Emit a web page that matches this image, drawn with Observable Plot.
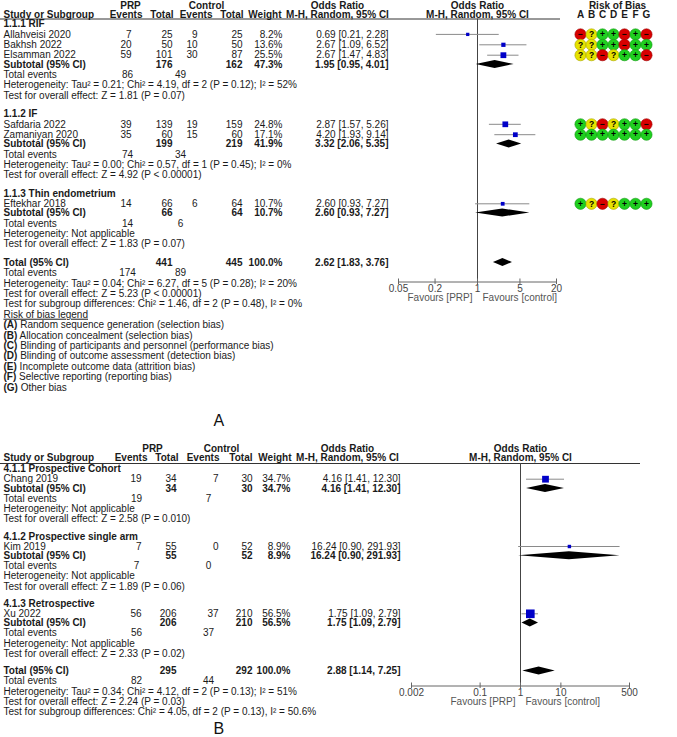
<!DOCTYPE html>
<html><head><meta charset="utf-8">
<script src="https://cdn.jsdelivr.net/npm/d3@7"></script>
<script src="https://cdn.jsdelivr.net/npm/@observablehq/plot@0.6"></script>
<style>
body{margin:0;background:#fff}
#fig{position:relative;width:677px;height:737px;overflow:hidden;background:#fff}
#fig > div{position:absolute;left:0;width:677px}
#fig svg{position:absolute;left:0;top:0;overflow:visible}
</style></head><body><div id="fig"><div id="pa" style="top:0;height:430px"></div><div id="pb" style="top:430px;height:307px"></div></div>
<script>
// ================= DATA: Panel A =================
const groupsA = ["1.1.1 RIF", "1.1.2 IF", "1.1.3 Thin endometrium"];
const studyA = ["Allahveisi 2020", "Bakhsh 2022", "Elsamman 2022", "Safdaria 2022", "Zamaniyan 2020", "Eftekhar 2018"];
const studyGroupA = ["1.1.1 RIF", "1.1.1 RIF", "1.1.1 RIF", "1.1.2 IF", "1.1.2 IF", "1.1.3 Thin endometrium"];
const prpEventsA = [7, 20, 59, 39, 35, 14];
const prpTotalA = [25, 50, 101, 139, 60, 66];
const ctlEventsA = [9, 10, 30, 19, 15, 6];
const ctlTotalA = [25, 50, 87, 159, 60, 64];
const weightA = [8.2, 13.6, 25.5, 24.8, 17.1, 10.7];
const orA = [0.69, 2.67, 2.67, 2.87, 4.20, 2.60];
const loA = [0.21, 1.09, 1.47, 1.57, 1.93, 0.93];
const hiA = [2.28, 6.52, 4.83, 5.26, 9.14, 7.27];
const robA = ["-?++-+-", "??++-++", "??-?++-", "+?-?++-", "+++++++", "+?-?+++"];
// subgroups A
const subPrpTotalA = [176, 199, 66];
const subCtlTotalA = [162, 219, 64];
const subWeightA = [47.3, 41.9, 10.7];
const subOrA = [1.95, 3.32, 2.60];
const subLoA = [0.95, 2.06, 0.93];
const subHiA = [4.01, 5.35, 7.27];
const subPrpEventsA = [86, 74, 14];
const subCtlEventsA = [49, 34, 6];
const subHetA = ["Tau² = 0.21; Chi² = 4.19, df = 2 (P = 0.12); I² = 52%", "Tau² = 0.00; Chi² = 0.57, df = 1 (P = 0.45); I² = 0%", "Not applicable"];
const subTestA = ["Z = 1.81 (P = 0.07)", "Z = 4.92 (P < 0.00001)", "Z = 1.83 (P = 0.07)"];
// overall A
const totalA = {prpTotal: 441, ctlTotal: 445, weight: 100.0, or: 2.62, lo: 1.83, hi: 3.76, prpEvents: 174, ctlEvents: 89,
  het: "Tau² = 0.04; Chi² = 6.27, df = 5 (P = 0.28); I² = 20%", test: "Z = 5.23 (P < 0.00001)",
  sub: "Chi² = 1.46, df = 2 (P = 0.48), I² = 0%"};
const ticksA = [0.05, 0.2, 1, 5, 20];
const tickLabelsA = ["0.05", "0.2", "1", "5", "20"];
const robLetters = ["A", "B", "C", "D", "E", "F", "G"];
const robLegend = ["(A) Random sequence generation (selection bias)", "(B) Allocation concealment (selection bias)",
  "(C) Blinding of participants and personnel (performance bias)", "(D) Blinding of outcome assessment (detection bias)",
  "(E) Incomplete outcome data (attrition bias)", "(F) Selective reporting (reporting bias)", "(G) Other bias"];

// ================= DATA: Panel B =================
const groupsB = ["4.1.1 Prospective Cohort", "4.1.2 Prospective single arm", "4.1.3 Retrospective"];
const studyB = ["Chang 2019", "Kim 2019", "Xu 2022"];
const studyGroupB = ["4.1.1 Prospective Cohort", "4.1.2 Prospective single arm", "4.1.3 Retrospective"];
const prpEventsB = [19, 7, 56];
const prpTotalB = [34, 55, 206];
const ctlEventsB = [7, 0, 37];
const ctlTotalB = [30, 52, 210];
const weightB = [34.7, 8.9, 56.5];
const orB = [4.16, 16.24, 1.75];
const loB = [1.41, 0.90, 1.09];
const hiB = [12.30, 291.93, 2.79];
const subPrpTotalB = [34, 55, 206];
const subCtlTotalB = [30, 52, 210];
const subWeightB = [34.7, 8.9, 56.5];
const subOrB = [4.16, 16.24, 1.75];
const subLoB = [1.41, 0.90, 1.09];
const subHiB = [12.30, 291.93, 2.79];
const subPrpEventsB = [19, 7, 56];
const subCtlEventsB = [7, 0, 37];
const subHetB = ["Not applicable", "Not applicable", "Not applicable"];
const subTestB = ["Z = 2.58 (P = 0.010)", "Z = 1.89 (P = 0.06)", "Z = 2.33 (P = 0.02)"];
const totalB = {prpTotal: 295, ctlTotal: 292, weight: 100.0, or: 2.88, lo: 1.14, hi: 7.25, prpEvents: 82, ctlEvents: 44,
  het: "Tau² = 0.34; Chi² = 4.12, df = 2 (P = 0.13); I² = 51%", test: "Z = 2.24 (P = 0.03)",
  sub: "Chi² = 4.05, df = 2 (P = 0.13), I² = 50.6%"};
const ticksB = [0.002, 0.1, 1, 10, 500];
const tickLabelsB = ["0.002", "0.1", "1", "10", "500"];

// ================= LAYOUT / STYLE =================
const FONT = "'Liberation Sans', Arial, sans-serif";
const FS = 10;
const TXT = "#1a1a1a";
const COL_A = {label:[3,"start"], ev1:[131,"end"], tot1:[172,"end"], ev2:[197,"end"], tot2:[242,"end"], wt:[282,"end"], or:[388,"end"],
  te1:[127,"middle"], te2:[180,"middle"], hExp:[130,"middle"], hCtl:[206,"middle"], hEv1:[142,"end"], hTot1:[173,"end"],
  hEv2:[212,"end"], hTot2:[243,"end"], hWt:[281,"end"], hOr:[337,"middle"]};
const COL_B = {label:[3,"start"], ev1:[141,"end"], tot1:[176,"end"], ev2:[218,"end"], tot2:[252,"end"], wt:[290,"end"], or:[400,"end"],
  te1:[136,"middle"], te2:[208,"middle"], hExp:[152,"middle"], hCtl:[221,"middle"], hEv1:[147,"end"], hTot1:[178,"end"],
  hEv2:[219,"end"], hTot2:[252,"end"], hWt:[291,"end"], hOr:[347,"middle"]};
const LAY_A = {height:430, right:117, hdr1:5, hdr2:13.8, line:18.5, first:23.5, step:10.4, sub:9.2, gap:18.3, axis:281.5, dh:4,
  panelY:420, xRange:[398, 556], domain:[0.05, 20]};
const LAY_B = {height:307, right:37, hdr1:18, hdr2:27.5, line:33, first:38.5, step:10.2, sub:9.2, gap:17.3, axis:255.5, dh:4,
  panelY:298, xRange:[411, 629], domain:[0.002, 500]};

const f2 = v => v.toFixed(2);
const orTxt = (e, l, h) => `${f2(e)} [${f2(l)}, ${f2(h)}]`;

function build(D, L) {
  const items = [], studies = [], diamonds = [];
  const add = (t, y, col, bold, fill) => items.push({t: String(t), y, col, bold: !!bold, fill});
  add("PRP", L.hdr1, "hExp", 1); add("Control", L.hdr1, "hCtl", 1); add("Odds Ratio", L.hdr1, "hOr", 1);
  add("Study or Subgroup", L.hdr2, "label", 1); add("Events", L.hdr2, "hEv1", 1); add("Total", L.hdr2, "hTot1", 1);
  add("Events", L.hdr2, "hEv2", 1); add("Total", L.hdr2, "hTot2", 1); add("Weight", L.hdr2, "hWt", 1);
  add("M-H, Random, 95% CI", L.hdr2, "hOr", 1);
  let y = L.first;
  D.groups.forEach((g, gi) => {
    add(g, y, "label", 1); y += L.step;
    D.study.forEach((s, i) => {
      if (D.studyGroup[i] !== g) return;
      add(s, y, "label"); add(D.prpEvents[i], y, "ev1"); add(D.prpTotal[i], y, "tot1");
      add(D.ctlEvents[i], y, "ev2"); add(D.ctlTotal[i], y, "tot2"); add(D.weight[i].toFixed(1) + "%", y, "wt");
      add(orTxt(D.or[i], D.lo[i], D.hi[i]), y, "or");
      studies.push({i, y, or: D.or[i], lo: D.lo[i], hi: D.hi[i], w: D.weight[i]});
      y += L.step;
    });
    y -= L.step - L.sub;
    add("Subtotal (95% CI)", y, "label", 1); add(D.subPrpTotal[gi], y, "tot1", 1); add(D.subCtlTotal[gi], y, "tot2", 1);
    add(D.subWeight[gi].toFixed(1) + "%", y, "wt", 1); add(orTxt(D.subOr[gi], D.subLo[gi], D.subHi[gi]), y, "or", 1);
    diamonds.push({k: gi, y, est: D.subOr[gi], lo: D.subLo[gi], hi: D.subHi[gi]});
    y += L.step;
    add("Total events", y, "label"); add(D.subPrpEvents[gi], y, "te1"); add(D.subCtlEvents[gi], y, "te2"); y += L.step;
    add("Heterogeneity: " + D.subHet[gi], y, "label"); y += L.step;
    add("Test for overall effect: " + D.subTest[gi], y, "label"); y += L.gap;
  });
  const T = D.total;
  add("Total (95% CI)", y, "label", 1); add(T.prpTotal, y, "tot1", 1); add(T.ctlTotal, y, "tot2", 1);
  add(T.weight.toFixed(1) + "%", y, "wt", 1); add(orTxt(T.or, T.lo, T.hi), y, "or", 1);
  diamonds.push({k: 99, y, est: T.or, lo: T.lo, hi: T.hi});
  y += L.step;
  add("Total events", y, "label"); add(T.prpEvents, y, "te1"); add(T.ctlEvents, y, "te2"); y += L.step;
  add("Heterogeneity: " + T.het, y, "label"); y += L.step;
  add("Test for overall effect: " + T.test, y, "label"); y += L.step;
  add("Test for subgroup differences: " + T.sub, y, "label"); y += L.step;
  if (D.legend) {
    add("Risk of bias legend", y, "label"); y += L.step;
    D.legend.forEach(t => { add(t, y, "label"); y += L.step; });
  }
  return {items, studies, diamonds};
}

function makePanel(D, L, COL, letter) {
  const B = build(D, L);
  const marks = [];
  marks.push(Plot.ruleY([L.line], {y: d => d, stroke: "#333", strokeWidth: 1}));
  for (const [, arr] of d3.groups(B.items, d => d.col + "|" + d.bold)) {
    const [cx, anchor] = COL[arr[0].col];
    marks.push(Plot.text(arr, {y: "y", text: "t", frameAnchor: "left", dx: cx, textAnchor: anchor,
      fontWeight: arr[0].bold ? "bold" : "normal", fill: TXT, fontSize: FS}));
  }
  // forest header
  marks.push(Plot.text([{t: "Odds Ratio", y: L.hdr1}, {t: "M-H, Random, 95% CI", y: L.hdr2}],
    {x: () => 1, y: "y", text: "t", fontWeight: "bold", fill: TXT, fontSize: FS}));
  // null line
  marks.push(Plot.ruleX([1], {x: d => d, y1: () => L.line, y2: () => L.axis, stroke: "#444"}));
  // CIs and squares
  marks.push(Plot.ruleY(B.studies, {y: "y", x1: "lo", x2: "hi", stroke: "#8a8a8a"}));
  marks.push(Plot.dot(B.studies, {x: "or", y: "y", symbol: "square", r: d => 1.15 * Math.sqrt(d.w) / Math.sqrt(Math.PI), fill: "#0000c8"}));
  // diamonds
  const dp = B.diamonds.flatMap(d => [
    {k: d.k, x: d.lo, y1: d.y, y2: d.y}, {k: d.k, x: d.est, y1: d.y - L.dh, y2: d.y + L.dh}, {k: d.k, x: d.hi, y1: d.y, y2: d.y}]);
  marks.push(Plot.areaY(dp, {x: "x", y1: "y1", y2: "y2", z: "k", fill: "#000", curve: "linear"}));
  // axis
  const tv = D.ticks;
  marks.push(Plot.ruleY([L.axis], {y: d => d, x1: () => tv[0], x2: () => tv[tv.length - 1], stroke: "#666"}));
  marks.push(Plot.ruleX(tv, {x: d => d, y1: () => L.axis - 3, y2: () => L.axis + 2.5, stroke: "#666"}));
  marks.push(Plot.text(tv, {x: d => d, y: () => L.axis + 7, text: (d, i) => D.tickLabels[i], fill: "#444", fontSize: FS}));
  marks.push(Plot.text(["Favours [PRP]"], {x: () => 1, y: () => L.axis + 16, textAnchor: "end", dx: -5, fill: "#555", fontSize: FS}));
  marks.push(Plot.text(["Favours [control]"], {x: () => 1, y: () => L.axis + 16, textAnchor: "start", dx: 5, fill: "#555", fontSize: FS}));
  // panel letter
  marks.push(Plot.text([letter], {frameAnchor: "left", dx: 213, y: () => L.panelY, fontSize: 16, fill: "#111"}));

  const svg = Plot.plot({
    width: 677, height: L.height, marginLeft: 0, marginRight: L.right, marginTop: 0, marginBottom: 0,
    style: {fontFamily: FONT, fontSize: FS + "px", background: "transparent", overflow: "visible"},
    x: {type: "log", domain: L.domain, range: L.xRange, axis: null},
    y: {type: "identity", axis: null},
    r: {type: "identity"},
    marks
  });
  // post-process: underline legend title, bold legend letters
  d3.select(svg).selectAll("text").each(function () {
    const t = this.textContent;
    if (t === "Risk of bias legend") this.setAttribute("text-decoration", "underline");
    const m = /^(\([A-G]\))( .*)$/.exec(t);
    if (m && this.childNodes.length === 1) {
      this.textContent = "";
      const s = d3.select(this);
      s.append("tspan").attr("font-weight", "bold").text(m[1]);
      s.append("tspan").text(m[2]);
    }
  });
  return {svg, B};
}

const DA = {groups: groupsA, study: studyA, studyGroup: studyGroupA, prpEvents: prpEventsA, prpTotal: prpTotalA,
  ctlEvents: ctlEventsA, ctlTotal: ctlTotalA, weight: weightA, or: orA, lo: loA, hi: hiA,
  subPrpTotal: subPrpTotalA, subCtlTotal: subCtlTotalA, subWeight: subWeightA, subOr: subOrA, subLo: subLoA, subHi: subHiA,
  subPrpEvents: subPrpEventsA, subCtlEvents: subCtlEventsA, subHet: subHetA, subTest: subTestA, total: totalA,
  ticks: ticksA, tickLabels: tickLabelsA, legend: robLegend};
const DB = {groups: groupsB, study: studyB, studyGroup: studyGroupB, prpEvents: prpEventsB, prpTotal: prpTotalB,
  ctlEvents: ctlEventsB, ctlTotal: ctlTotalB, weight: weightB, or: orB, lo: loB, hi: hiB,
  subPrpTotal: subPrpTotalB, subCtlTotal: subCtlTotalB, subWeight: subWeightB, subOr: subOrB, subLo: subLoB, subHi: subHiB,
  subPrpEvents: subPrpEventsB, subCtlEvents: subCtlEventsB, subHet: subHetB, subTest: subTestB, total: totalB,
  ticks: ticksB, tickLabels: tickLabelsB};

const PA = makePanel(DA, LAY_A, COL_A, "A");
document.getElementById("pa").appendChild(PA.svg);
const PB = makePanel(DB, LAY_B, COL_B, "B");
document.getElementById("pb").appendChild(PB.svg);

// ================= Risk of bias grid (panel A) =================
const robColor = {"+": "#1fcf1f", "?": "#e6e200", "-": "#d80000"};
const robStroke = {"+": "#119911", "?": "#a8a400", "-": "#9a0000"};
const robSym = {"+": "+", "?": "?", "-": "−"};
const robCells = PA.B.studies.flatMap(s => robLetters.map((L, j) => ({letter: L, y: s.y, v: robA[s.i][j]})));
const robSvg = Plot.plot({
  width: 677, height: LAY_A.height, margin: 0,
  style: {fontFamily: FONT, fontSize: FS + "px", background: "transparent", overflow: "visible"},
  x: {type: "point", domain: robLetters, range: [574, 652], axis: null},
  y: {type: "identity", axis: null},
  color: {type: "identity"},
  marks: [
    Plot.text(["Risk of Bias"], {x: () => "D", y: () => LAY_A.hdr1, fontWeight: "bold", fill: TXT, fontSize: FS, dx: 4}),
    Plot.text(robLetters, {x: d => d, y: () => LAY_A.hdr2, fontWeight: "bold", fill: TXT, fontSize: FS}),
    Plot.dot(robCells, {x: "letter", y: "y", r: 5.6, fill: d => robColor[d.v], stroke: d => robStroke[d.v], strokeWidth: 0.6}),
    Plot.text(robCells, {x: "letter", y: "y", text: d => robSym[d.v], fontWeight: "bold", fontSize: 8.5, fill: "#000"})
  ]
});
document.getElementById("pa").appendChild(robSvg);
</script></body></html>
